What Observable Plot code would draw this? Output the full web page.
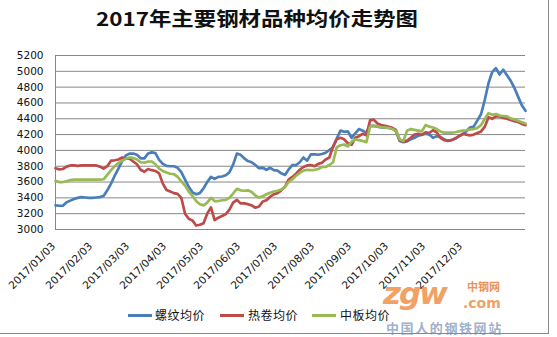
<!DOCTYPE html>
<html>
<head>
<meta charset="utf-8">
<script src="https://cdn.jsdelivr.net/npm/d3@7"></script>
<script src="https://cdn.jsdelivr.net/npm/@observablehq/plot@0.6"></script>
<style>
  html, body { margin: 0; padding: 0; background: #fff; }
  #wrap { position: relative; width: 557px; height: 337px; overflow: hidden; background: #fff; font-family: "DejaVu Sans", sans-serif; }
  #border { position: absolute; left: -2px; top: -2px; width: 551px; height: 336px; border-right: 1px solid #8a8a8a; border-bottom: 1px solid #8a8a8a; box-sizing: border-box; pointer-events: none; }
  #title { position: absolute; left: 0; top: 5px; width: 514px; text-align: center; font-family: "Noto Sans CJK SC", sans-serif; font-weight: bold; font-size: 19px; line-height: 26px; color: #111; transform: scaleX(1.18); transform-origin: 257px 0; }
  #chart { position: absolute; left: 0; top: 0; }
  .leg { position: absolute; top: 307px; font-family: "Noto Sans CJK SC", sans-serif; font-size: 12px; line-height: 16px; color: #111; letter-spacing: 0.5px; white-space: nowrap; }
  .sw { position: absolute; top: 314px; height: 3px; width: 24px; }
  .wm { position: absolute; line-height: 1; white-space: nowrap; }
  .wm1 { left: 383px; top: 278px; font-family: "DejaVu Sans", sans-serif; font-weight: bold; font-style: italic; font-size: 31px; color: #f0914a; opacity: 0.85; letter-spacing: -2px; }
  .wm2 { left: 463px; top: 296px; font-family: "DejaVu Sans", sans-serif; font-weight: bold; font-size: 14px; color: #f0914a; opacity: 0.85; }
  .wm3 { left: 467px; top: 281px; font-family: "Noto Sans CJK SC", sans-serif; font-weight: bold; font-size: 11px; color: #e8803a; opacity: 0.85; }
  .wm4 { left: 386px; top: 321px; font-family: "Noto Sans CJK SC", sans-serif; font-weight: bold; font-size: 13px; color: #9fb1cc; letter-spacing: 1.6px; }
</style>
</head>
<body>
<div id="wrap">
  <div id="chart"></div>
  <div id="title">2017年主要钢材品种均价走势图</div>
  <div class="wm wm1">zgw</div>
  <div class="wm wm3">中钢网</div>
  <div class="wm wm2">.com</div>
  <div class="wm wm4">中国人的钢铁网站</div>
  <div id="legend"></div>
  <div id="border"></div>
</div>
<script>
// Series names and colours
const seriesNames = ["螺纹均价", "热卷均价", "中板均价"];
const seriesColors = ["#4a7ebb", "#be4b48", "#98b954"];

// X tick labels (category labels) and their category index
const tickLabels = ["2017/01/03","2017/02/03","2017/03/03","2017/04/03","2017/05/03","2017/06/03",
                    "2017/07/03","2017/08/03","2017/09/03","2017/10/03","2017/11/03","2017/12/03"];
const tickIndex = [0,10,20,30,40,50,60,70,80,90,100,110];

// Y ticks
const yTicks = [3000,3200,3400,3600,3800,4000,4200,4400,4600,4800,5000,5200];

// 螺纹均价 (rebar)
const rebar = [3305,3300,3300,3345,3365,3385,3400,3410,3405,3400,
 3400,3405,3410,3425,3495,3580,3680,3770,3865,3935,
 3960,3960,3945,3900,3900,3960,3975,3965,3880,3830,
 3805,3800,3800,3780,3725,3630,3540,3470,3445,3460,
 3520,3600,3665,3640,3665,3670,3685,3725,3820,3960,
 3945,3900,3865,3850,3815,3775,3780,3755,3780,3750,
 3745,3710,3690,3760,3815,3815,3850,3910,3870,3950,
 3950,3945,3955,3970,4005,4040,4150,4250,4235,4240,
 4160,4215,4270,4250,4225,4310,4310,4300,4290,4290,
 4285,4280,4240,4120,4105,4115,4140,4160,4185,4200,
 4210,4200,4160,4180,4170,4140,4120,4130,4150,4180,
 4200,4240,4290,4300,4380,4460,4640,4850,4990,5040,
 4960,5020,4950,4880,4790,4680,4570,4500];

// 热卷均价 (hot-rolled coil)
const hrc = [3775,3760,3765,3795,3810,3810,3805,3810,3810,3810,
 3810,3810,3795,3770,3800,3870,3875,3885,3910,3895,
 3895,3860,3825,3755,3730,3765,3750,3740,3710,3580,
 3500,3480,3460,3450,3400,3200,3135,3115,3050,3060,
 3080,3200,3280,3120,3150,3170,3195,3250,3340,3375,
 3330,3330,3320,3305,3275,3290,3355,3370,3415,3445,
 3460,3495,3540,3630,3665,3705,3755,3790,3810,3815,
 3800,3830,3845,3885,3910,4050,4140,4160,4140,4090,
 4070,4160,4180,4210,4190,4380,4390,4340,4320,4310,
 4300,4285,4260,4130,4110,4125,4160,4200,4210,4195,
 4230,4220,4255,4230,4160,4130,4125,4130,4150,4180,
 4210,4200,4190,4200,4220,4240,4300,4420,4400,4430,
 4430,4410,4400,4385,4370,4360,4335,4320];

// 中板均价 (medium plate)
const plate = [3615,3600,3600,3610,3625,3630,3630,3630,3630,3630,
 3630,3630,3630,3635,3690,3750,3800,3840,3870,3895,
 3910,3905,3885,3850,3845,3860,3860,3825,3770,3740,
 3720,3705,3700,3665,3610,3555,3480,3425,3360,3320,
 3305,3340,3400,3360,3360,3370,3375,3400,3455,3515,
 3495,3490,3495,3475,3430,3405,3420,3445,3465,3480,
 3490,3505,3540,3600,3635,3680,3715,3745,3755,3750,
 3755,3765,3790,3790,3815,3850,4040,4065,4075,4050,
 4110,4140,4130,4120,4105,4300,4310,4305,4295,4290,
 4285,4270,4250,4140,4120,4250,4270,4260,4250,4240,
 4320,4300,4290,4270,4240,4225,4225,4225,4230,4240,
 4250,4255,4265,4270,4285,4320,4400,4470,4450,4460,
 4440,4435,4430,4405,4390,4375,4355,4340];

const seriesValues = [rebar, hrc, plate];
const rows = seriesValues.flatMap((arr, s) => arr.map((v, i) => ({i, v, s: seriesNames[s]})));

const chart = Plot.plot({
  width: 557,
  height: 337,
  marginLeft: 55,
  marginRight: 32,
  marginTop: 55,
  marginBottom: 108,
  style: {fontFamily: "DejaVu Sans, sans-serif", fontSize: "10.5px", color: "#111", background: "transparent"},
  x: {domain: [0, rebar.length - 1], axis: null},
  y: {domain: [3000, 5200], axis: null},
  color: {domain: seriesNames, range: seriesColors},
  marks: [
    Plot.ruleY(yTicks, {stroke: "#878787", strokeWidth: 1}),
    Plot.ruleX([0], {stroke: "#878787", strokeWidth: 1}),
    Plot.line(rows, {x: "i", y: "v", z: "s", stroke: "s", strokeWidth: 2.7, strokeLinejoin: "round", strokeLinecap: "round"}),
    Plot.axisY({ticks: yTicks, tickSize: 0, tickPadding: 12, fontSize: 10.5, fill: "#111", label: null, tickFormat: d => String(d)}),
    Plot.text(tickIndex, {x: d => d, frameAnchor: "bottom", text: (d, k) => tickLabels[k],
      rotate: -45, textAnchor: "end", lineAnchor: "middle", dx: -2, dy: 15, fontSize: 10.5, fill: "#111"})
  ]
});
document.getElementById("chart").appendChild(chart);

// Legend built from series arrays
const legendPos = [[128, 155], [220, 248], [312, 340]];
const leg = document.getElementById("legend");
seriesNames.forEach((name, k) => {
  const sw = document.createElement("div");
  sw.className = "sw";
  sw.style.left = legendPos[k][0] + "px";
  sw.style.background = seriesColors[k];
  leg.appendChild(sw);
  const t = document.createElement("div");
  t.className = "leg";
  t.style.left = legendPos[k][1] + "px";
  t.textContent = name;
  leg.appendChild(t);
});
</script>
</body>
</html>
